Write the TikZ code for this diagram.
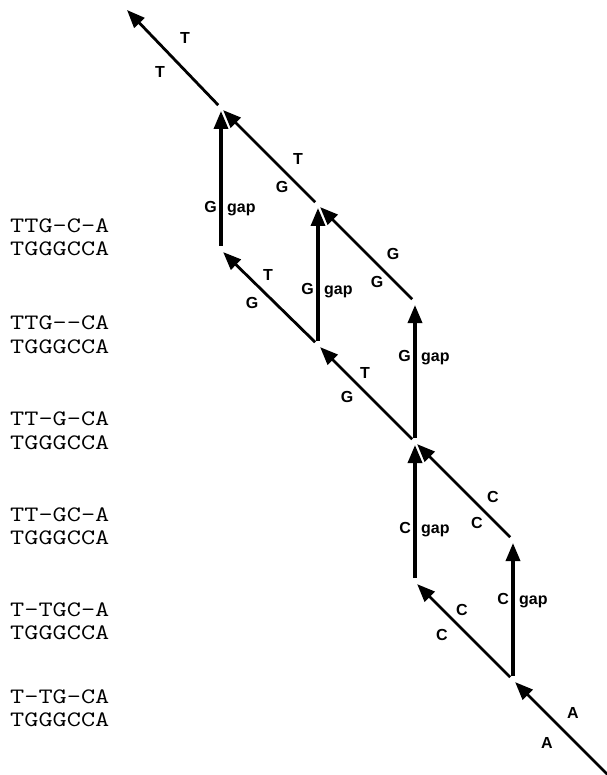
\documentclass[tikz,border=0pt]{standalone}
\usepackage{fontspec}
\usepackage{graphicx}
\usetikzlibrary{arrows.meta}
\newfontfamily\basefont{Liberation Sans}
\newcommand{\seqtext}[1]{\scalebox{1.25}[1]{\ttfamily\fontsize{22}{22}\selectfont #1}}
\begin{document}
\begin{tikzpicture}[x=1pt,y=-1pt,
  edge/.style={line width=2.8pt, -{Triangle[length=18pt,width=14pt]},
               shorten <=4pt, shorten >=3pt},
  vedge/.style={edge, line width=3.4pt},
  base/.style={font=\basefont\bfseries\fontsize{16}{16}\selectfont, inner sep=0pt},
  gapl/.style={base, anchor=base west},
  letl/.style={base, anchor=base east},
  seq/.style={inner sep=0pt, anchor=base west}]
\useasboundingbox (0,0) rectangle (606,775);

% lattice points of the alignment graph
\coordinate (S)  at (610,777);
\coordinate (N1) at (513,680);
\coordinate (N2) at (415,582);
\coordinate (N3) at (513,540);
\coordinate (N4) at (415,442);
\coordinate (N5) at (318,345);
\coordinate (N6) at (415,302);
\coordinate (N7) at (318,205);
\coordinate (N8) at (221,250);
\coordinate (N9) at (221,108);
\coordinate (E)  at (127,10);

% diagonal steps (match / mismatch)
\draw[edge, shorten <=0pt] (S) -- (N1);
\draw[edge] (N1) -- (N2);
\draw[edge] (N3) -- (N4);
\draw[edge] (N4) -- (N5);
\draw[edge] (N6) -- (N7);
\draw[edge] (N5) -- (N8);
\draw[edge] (N7) -- (N9);
\draw[edge, shorten >=0pt] (N9) -- (E);

% vertical steps (gaps)
\draw[vedge] (N1) -- (N3);
\draw[vedge] (N2) -- (N4);
\draw[vedge] (N4) -- (N6);
\draw[vedge] (N5) -- (N7);
\draw[vedge] (N8) -- (N9);

% residue labels on the diagonals
\node[base] (a1) at (573,713) {A};
\node[base] (a2) at (547,743) {A};
\node[base] (c1) at (462,610) {C};
\node[base] (c2) at (442,635) {C};
\node[base] (c3) at (493,497) {C};
\node[base] (c4) at (477,523) {C};
\node[base] (t1) at (365,373) {T};
\node[base] (g1) at (347,397) {G};
\node[base] (g2) at (393,254) {G};
\node[base] (g3) at (377,282) {G};
\node[base] (t2) at (268,275) {T};
\node[base] (g4) at (252,303) {G};
\node[base] (t3) at (298,159) {T};
\node[base] (g5) at (282,187) {G};
\node[base] (t4) at (185,38) {T};
\node[base] (t5) at (160,72) {T};

% labels on the gap steps
\node[letl] (v1l) at (509,604) {C};
\node[gapl] (v1g) at (519,604) {gap};
\node[letl] (v2l) at (411,533) {C};
\node[gapl] (v2g) at (421,533) {gap};
\node[letl] (v3l) at (411,361) {G};
\node[gapl] (v3g) at (421,361) {gap};
\node[letl] (v4l) at (314,294) {G};
\node[gapl] (v4g) at (324,294) {gap};
\node[letl] (v5l) at (217,213) {G};
\node[gapl] (v5g) at (227,213) {gap};

% alignments
\node[seq] (s1a) at (10,232.5) {\seqtext{TTG-C-A}};
\node[seq] (s1b) at (10,255.5) {\seqtext{TGGGCCA}};
\node[seq] (s2a) at (10,329.5) {\seqtext{TTG-\kern0pt-CA}};
\node[seq] (s2b) at (10,353.5) {\seqtext{TGGGCCA}};
\node[seq] (s3a) at (10,425.5) {\seqtext{TT-G-CA}};
\node[seq] (s3b) at (10,449.5) {\seqtext{TGGGCCA}};
\node[seq] (s4a) at (10,521.5) {\seqtext{TT-GC-A}};
\node[seq] (s4b) at (10,544.5) {\seqtext{TGGGCCA}};
\node[seq] (s5a) at (10,616.5) {\seqtext{T-TGC-A}};
\node[seq] (s5b) at (10,639.5) {\seqtext{TGGGCCA}};
\node[seq] (s6a) at (10,703.5) {\seqtext{T-TG-CA}};
\node[seq] (s6b) at (10,726.5) {\seqtext{TGGGCCA}};
\end{tikzpicture}
\end{document}
